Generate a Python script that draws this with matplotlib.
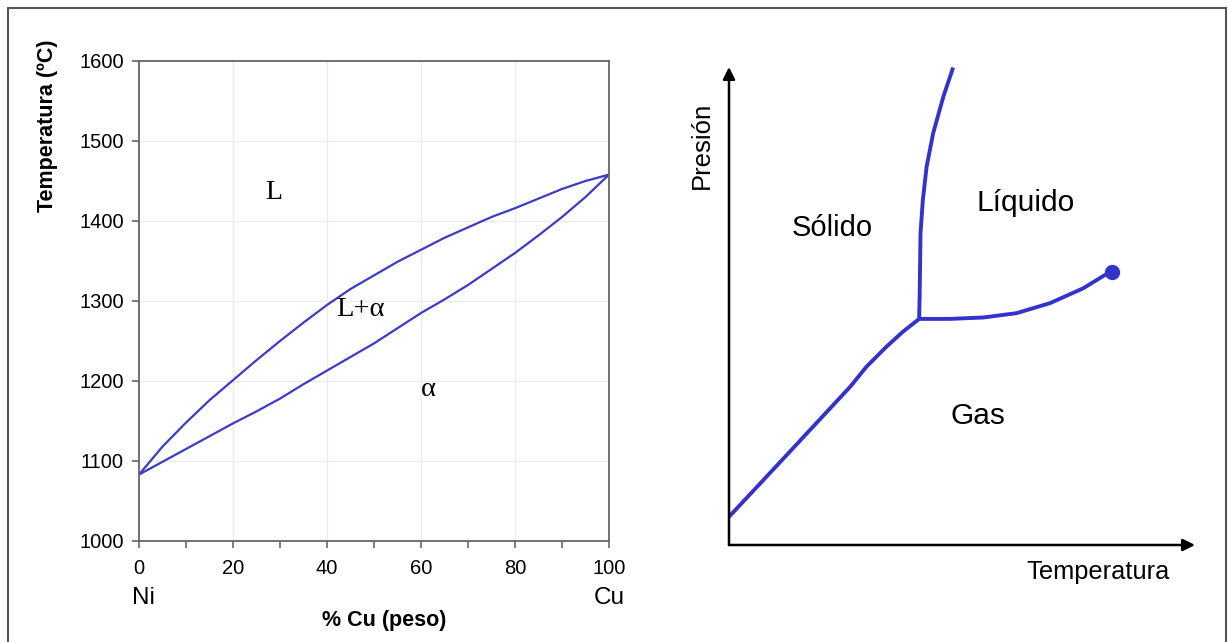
import matplotlib.pyplot as plt
from matplotlib.patches import Rectangle

# Diagrama Ni-Cu
cu_pct = [0, 5, 10, 15, 20, 25, 30, 35, 40, 45, 50, 55, 60, 65, 70, 75, 80, 85, 90, 95, 100]
liquidus = [1083, 1118, 1148, 1176, 1201, 1226, 1250, 1273, 1295, 1315, 1332, 1349, 1364, 1379, 1392, 1405, 1416, 1428, 1440, 1450, 1458]
solidus = [1083, 1099, 1115, 1131, 1147, 1162, 1178, 1196, 1213, 1230, 1247, 1266, 1285, 1302, 1320, 1340, 1360, 1382, 1405, 1430, 1458]

# Diagrama de fases generico (unidades arbitrarias 0-100)
subl_T = [0.0, 11.6, 26.0, 29.5, 33.8, 37.3, 40.8]
subl_P = [5.9, 18.0, 33.1, 37.3, 41.5, 44.6, 47.3]
fus_T = [40.8, 40.9, 41.0, 41.1, 41.6, 42.4, 43.8, 46.0, 48.1]
fus_P = [47.3, 51.3, 58.2, 65.3, 72.2, 79.1, 86.1, 93.8, 99.9]
vap_T = [40.8, 47.4, 54.6, 61.7, 68.9, 76.0, 80.7, 82.1]
vap_P = [47.3, 47.3, 47.6, 48.5, 50.6, 53.7, 56.5, 57.2]
crit_T, crit_P = 82.1, 57.2

fig = plt.figure(figsize=(12.28, 6.42), dpi=100)
fig.patches.append(Rectangle((8 / 1228, -0.02), 1218 / 1228, 1 - 8 / 642 + 0.02,
                             transform=fig.transFigure, fill=False,
                             edgecolor='#555555', linewidth=1.5))

sans = 'Liberation Sans'
serif = 'Liberation Serif'

# --- panel izquierdo ---
ax1 = fig.add_axes([139 / 1228, 101 / 642, 470 / 1228, 480 / 642])
ax1.plot(cu_pct, liquidus, color='#3b3bc8', linewidth=1.6)
ax1.plot(cu_pct, solidus, color='#3b3bc8', linewidth=1.6)
ax1.set_xlim(0, 100)
ax1.set_ylim(1000, 1600)
ax1.set_xticks([0, 20, 40, 60, 80, 100])
ax1.set_xticks([10, 30, 50, 70, 90], minor=True)
ax1.set_yticks(range(1000, 1601, 100))
ax1.grid(True, color='#ececec', linewidth=1)
ax1.set_axisbelow(True)
for s in ax1.spines.values():
    s.set_color('#666666')
    s.set_linewidth(1.3)
ax1.tick_params(which='both', direction='out', length=5, color='#666666', width=1.2,
                labelsize=14.5, pad=6)
ax1.tick_params(axis='x', pad=8)
for lab in ax1.get_xticklabels() + ax1.get_yticklabels():
    lab.set_fontfamily(sans)
ax1.set_ylabel('Temperatura (ºC)', fontsize=15.5, fontweight='bold', family=sans)
ax1.yaxis.set_label_coords(-0.172, 0.865)
ax1.text(0.521, -0.165, '% Cu (peso)', transform=ax1.transAxes, ha='center', va='center',
         fontsize=15.5, fontweight='bold', family=sans)
ax1.text(0.009, -0.118, 'Ni', transform=ax1.transAxes, ha='center', va='center', fontsize=17.5, family=sans)
ax1.text(1.0, -0.118, 'Cu', transform=ax1.transAxes, ha='center', va='center', fontsize=17.5, family=sans)
ax1.text(28.7, 1436, 'L', ha='center', va='center', fontsize=20, family=serif)
ax1.text(47, 1290, 'L+α', ha='center', va='center', fontsize=20.5, family=serif)
ax1.text(61.5, 1189, 'α', ha='center', va='center', fontsize=20.5, family=serif)

# --- panel derecho ---
ax2 = fig.add_axes([729 / 1228, 97 / 642, 466 / 1228, 478 / 642])
ax2.set_xlim(0, 100)
ax2.set_ylim(0, 100)
ax2.axis('off')
blue = '#3333cc'
ax2.plot(subl_T, subl_P, color=blue, linewidth=2.8, solid_capstyle='butt')
ax2.plot(fus_T, fus_P, color=blue, linewidth=2.8, solid_capstyle='butt')
ax2.plot(vap_T, vap_P, color=blue, linewidth=2.8, solid_capstyle='butt')
ax2.plot(crit_T, crit_P, 'o', color=blue, markersize=10)
ax2.annotate('', xy=(100, 0), xytext=(0, 0),
             arrowprops=dict(arrowstyle='-|>', color='black', lw=1.8, mutation_scale=18,
                             shrinkA=0, shrinkB=0))
ax2.annotate('', xy=(0, 100), xytext=(0, 0),
             arrowprops=dict(arrowstyle='-|>', color='black', lw=1.8, mutation_scale=18,
                             shrinkA=0, shrinkB=0))
ax2.text(22.1, 66.3, 'Sólido', ha='center', va='center', fontsize=21, family=sans)
ax2.text(63.7, 71.5, 'Líquido', ha='center', va='center', fontsize=21.5, family=sans)
ax2.text(53.4, 27, 'Gas', ha='center', va='center', fontsize=21.5, family=sans)
ax2.text(79.2, -5.6, 'Temperatura', ha='center', va='center', fontsize=18.3, family=sans)
ax2.text(-5.8, 83.7, 'Presión', ha='center', va='center', rotation=90, fontsize=18.5, family=sans)

plt.savefig('out.png', dpi=100)
